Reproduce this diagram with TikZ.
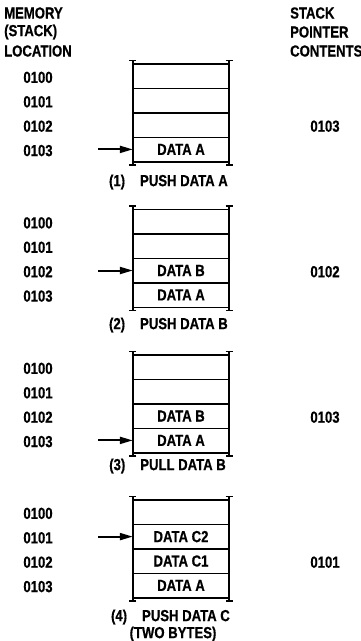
\documentclass[tikz,border=0pt]{standalone}
\usepackage{fontspec}
\setmainfont{Liberation Sans}[FakeStretch=0.82,BoldFeatures={FakeBold=0.6}]
\usetikzlibrary{arrows.meta}
\tikzset{
  txt/.style={font=\fontsize{16}{18}\selectfont\bfseries, inner sep=0pt},
  cell/.style={txt, rectangle, draw=none, minimum width=96pt, minimum height=24.4pt},
  hline/.style={line width=1.6pt},
  vline/.style={line width=2.4pt, {Bar[width=7pt,line width=1.4pt]}-{Bar[width=7pt,line width=1.4pt]}},
  ptr/.style={line width=2pt, -{Triangle[length=13pt,width=7pt]}},
}
\newcommand{\stackpanel}[8]{%
  % #1 name, #2 top y, #3-#6 row texts, #7 pointer row, #8 SP contents
  \foreach \i/\t in {1/{#3},2/{#4},3/{#5},4/{#6}} {
    \node[cell] (#1r\i) at (181, {#2+\i*24.4-12.2}) {\t};
  }
  \foreach \i/\a in {1/0100,2/0101,3/0102,4/0103} {
    \node[txt] (#1a\i) at (38, {#2+\i*24.4-11}) {\a};
  }
  \draw[hline] (#1r1.north west) -- (#1r1.north east);
  \foreach \i in {1,2,3,4} {
    \draw[hline] (#1r\i.south west) -- (#1r\i.south east);
  }
  \draw[vline] ([yshift=4pt]#1r1.north west) -- ([yshift=-4pt]#1r4.south west);
  \draw[vline] ([yshift=4pt]#1r1.north east) -- ([yshift=-4pt]#1r4.south east);
  \coordinate (#1p) at (98, {#2+#7*24.4-12.2});
  \draw[ptr] (#1p) -- (#1r#7.west);
  \node[txt] (#1sp) at (325, {#2+3*24.4-11}) {#8};
}
\begin{document}
\begin{tikzpicture}[x=1pt,y=-1pt]
\useasboundingbox[fill=white] (0,0) rectangle (361,641);
% headers
\node[txt, anchor=west] (h1) at (4,13) {MEMORY};
\node[txt, anchor=west] (h2) at (4,32) {(STACK)};
\node[txt, anchor=west] (h3) at (4,51) {LOCATION};
\node[txt, anchor=west] (s1) at (290,13) {STACK};
\node[txt, anchor=west] (s2) at (290,32) {POINTER};
\node[txt, anchor=west] (s3) at (290,51) {CONTENTS};
% panels
\stackpanel{A}{64}{}{}{}{DATA A}{4}{0103}
\node[txt, anchor=east] (capA) at (228,182) {(1)\hspace{15pt}PUSH DATA A};
\stackpanel{B}{209.5}{}{}{DATA B}{DATA A}{3}{0102}
\node[txt, anchor=east] (capB) at (228,325) {(2)\hspace{15pt}PUSH DATA B};
\stackpanel{C}{355}{}{}{DATA B}{DATA A}{4}{0103}
\node[txt, anchor=east] (capC) at (226,466) {(3)\hspace{15pt}PULL DATA B};
\stackpanel{D}{500}{}{DATA C2}{DATA C1}{DATA A}{2}{0101}
\node[txt, anchor=east] (capD) at (230,617) {(4)\hspace{15pt}PUSH DATA C};
\node[txt] (capD2) at (173,634) {(TWO BYTES)};
\end{tikzpicture}
\end{document}
